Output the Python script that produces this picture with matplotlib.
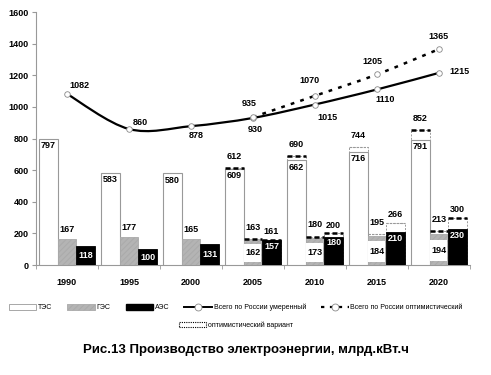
import matplotlib
matplotlib.use("Agg")
import matplotlib.pyplot as plt
from matplotlib.path import Path
from matplotlib.patches import PathPatch, Patch
from matplotlib.lines import Line2D
import numpy as np

plt.rcParams['font.family'] = ['Liberation Sans', 'DejaVu Sans']
plt.rcParams['hatch.color'] = '#444444'
plt.rcParams['hatch.linewidth'] = 0.7

years = ['1990', '1995', '2000', '2005', '2010', '2015', '2020']
tes = [797, 583, 580, 609, 662, 716, 791]
ges = [167, 177, 165, 162, 173, 184, 194]
aes = [118, 100, 131, 157, 180, 210, 230]
opt_years = ['2005', '2010', '2015', '2020']
tes_opt = [612, 690, 744, 852]
ges_opt = [163, 180, 195, 213]
aes_opt = [161, 200, 266, 300]
total_mod = [1082, 860, 878, 930, 1015, 1110, 1215]
total_opt = [935, 1070, 1205, 1365]

fig = plt.figure(figsize=(4.91, 3.75), dpi=100)
ax = fig.add_axes([0.0733, 0.2933, 0.8837, 0.6747])

x = np.arange(len(years))
xo = np.array([years.index(y) for y in opt_years])
w = 0.3
top_color = ['black', 'black', '#999999', 'black']
top_lw = [1.8, 1.8, 0.8, 1.8]

# optimistic bars (behind): thin dashed sides, heavy dashed top
for vals, off in ((tes_opt, -w), (ges_opt, 0), (aes_opt, w)):
    for i, (xi, v) in enumerate(zip(xo, vals)):
        ax.bar(xi + off, v, w, facecolor='white', edgecolor='#999999',
               linewidth=0.7, linestyle=(0, (2, 1.5)), zorder=2)
        ax.plot([xi + off - w / 2, xi + off + w / 2], [v, v], color=top_color[i],
                linewidth=top_lw[i], linestyle=(0, (2, 1.2)), solid_capstyle='butt', zorder=4)

ax.bar(x - w, tes, w, facecolor='white', edgecolor='#999999', linewidth=0.8, zorder=3)
ax.bar(x, ges, w, facecolor='#b4b4b4', edgecolor='#aaaaaa', linewidth=0.6, hatch='//////', zorder=3)
ax.bar(x + w, aes, w, facecolor='black', edgecolor='black', linewidth=0.6, zorder=3)

fs = 6.5
for xi, v in zip(x, tes):
    ax.text(xi - w, v - 15, str(v), ha='center', va='top', fontsize=fs, fontweight='bold', zorder=6)
for k, (xi, v) in enumerate(zip(x, ges)):
    if years[k] in opt_years:
        lo, hi = 0.12 * v, 0.82 * v
        ax.bar(xi, hi - lo, w * 0.92, bottom=lo, facecolor='white', edgecolor='none', zorder=4)
        ax.text(xi, (lo + hi) / 2, str(v), ha='center', va='center', fontsize=fs, fontweight='bold', zorder=6)
    else:
        ax.text(xi, v + 30, str(v), ha='center', va='bottom', fontsize=fs, fontweight='bold', zorder=6)
for k, (xi, v) in enumerate(zip(x, aes)):
    if years[k] in opt_years:
        ax.text(xi + w, v - 12, str(v), ha='center', va='top', fontsize=fs, fontweight='bold', color='white', zorder=6)
    else:
        ax.text(xi + w, v / 2, str(v), ha='center', va='center', fontsize=fs, fontweight='bold', color='white', zorder=6)
for xi, v in zip(xo, tes_opt):
    ax.text(xi - w, v + 45, str(v), ha='center', va='bottom', fontsize=fs, fontweight='bold', zorder=6)
for xi, v in zip(xo, ges_opt):
    ax.text(xi, v + 45, str(v), ha='center', va='bottom', fontsize=fs, fontweight='bold', zorder=6)
for xi, v in zip(xo, aes_opt):
    ax.text(xi + w, v + 22, str(v), ha='center', va='bottom', fontsize=fs, fontweight='bold', zorder=6)


def smooth_path(xs, ys):
    xs = list(xs); ys = list(ys)
    n = len(xs)
    verts = [(xs[0], ys[0])]
    codes = [Path.MOVETO]
    for i in range(n - 1):
        p0 = (xs[max(i - 1, 0)], ys[max(i - 1, 0)])
        p1 = (xs[i], ys[i])
        p2 = (xs[i + 1], ys[i + 1])
        p3 = (xs[min(i + 2, n - 1)], ys[min(i + 2, n - 1)])
        c1 = (p1[0] + (p2[0] - p0[0]) / 6, p1[1] + (p2[1] - p0[1]) / 6)
        c2 = (p2[0] - (p3[0] - p1[0]) / 6, p2[1] - (p3[1] - p1[1]) / 6)
        verts += [c1, c2, p2]
        codes += [Path.CURVE4] * 3
    return Path(verts, codes)

ax.add_patch(PathPatch(smooth_path(xo, total_opt), fill=False, edgecolor='black', linewidth=1.8,
                       linestyle=(0, (1.5, 2.5)), zorder=7))
ax.add_patch(PathPatch(smooth_path(x, total_mod), fill=False, edgecolor='black', linewidth=1.6, zorder=7))
ax.plot(x, total_mod, linestyle='none', marker='o', markersize=4, markerfacecolor='white',
        markeredgecolor='#888888', markeredgewidth=0.6, zorder=8)
ax.plot(xo, total_opt, linestyle='none', marker='o', markersize=4, markerfacecolor='white',
        markeredgecolor='#888888', markeredgewidth=0.6, zorder=8)

mod_off = [(9, 6), (8, 5), (4, -7), (2, -8), (9, -9), (6, -7), (15, 1)]
for xi, v, o in zip(x, total_mod, mod_off):
    ax.annotate(str(v), (xi, v), xytext=o, textcoords='offset points', ha='center', va='center',
                fontsize=fs, fontweight='bold', zorder=9)
opt_off = [(-3, 10), (-4, 11), (-3, 9), (0, 9)]
for xi, v, o in zip(xo, total_opt, opt_off):
    ax.annotate(str(v), (xi, v), xytext=o, textcoords='offset points', ha='center', va='center',
                fontsize=fs, fontweight='bold', zorder=9)

ax.set_xlim(-0.5, len(years) - 0.5)
ax.set_ylim(0, 1600)
ax.set_yticks(range(0, 1601, 200))
ax.set_xticks(x)
ax.set_xticklabels(years, fontsize=fs, fontweight='bold')
ax.set_xticks(np.arange(-0.5, len(years), 1), minor=True)
for lab in ax.get_yticklabels():
    lab.set_fontsize(fs); lab.set_fontweight('bold')
ax.tick_params(axis='x', which='major', length=0, pad=9)
ax.tick_params(axis='x', which='minor', length=3, color='#999999', direction='out')
ax.tick_params(axis='y', length=3, color='#999999', pad=2)
for s in ('top', 'right'):
    ax.spines[s].set_visible(False)
for s in ('left', 'bottom'):
    ax.spines[s].set_color('#999999'); ax.spines[s].set_linewidth(0.8)

h = [Patch(facecolor='white', edgecolor='#999999', linewidth=0.6),
     Patch(facecolor='#b4b4b4', edgecolor='#aaaaaa', hatch='//////', linewidth=0.6),
     Patch(facecolor='black', edgecolor='black'),
     Line2D([], [], color='black', linewidth=1.4, marker='o', markersize=5, markerfacecolor='white',
            markeredgecolor='#888888', markeredgewidth=0.6),
     Line2D([], [], color='black', linewidth=1.6, linestyle=(0, (1.5, 2.5)), marker='o', markersize=5,
            markerfacecolor='white', markeredgecolor='#888888', markeredgewidth=0.6)]
labels = ['ТЭС', 'ГЭС', 'АЭС', 'Всего по России умеренный', 'Всего по России оптимистический']
fig.legend(h, labels, loc='center', bbox_to_anchor=(0.48, 0.18), ncol=5, frameon=False, fontsize=5,
           handlelength=4, handleheight=0.9, columnspacing=2.2, handletextpad=0.2)
h2 = [Patch(facecolor='white', edgecolor='black', linestyle=(0, (1, 1)), linewidth=0.8)]
fig.legend(h2, ['оптимистический вариант'], loc='center', bbox_to_anchor=(0.48, 0.133), frameon=False,
           fontsize=5, handlelength=4, handleheight=0.9, handletextpad=0.2)

fig.text(0.50, 0.067, 'Рис.13 Производство электроэнергии, млрд.кВт.ч', ha='center', va='center',
         fontsize=9.5, fontweight='bold')

fig.savefig('out.png', dpi=100)
